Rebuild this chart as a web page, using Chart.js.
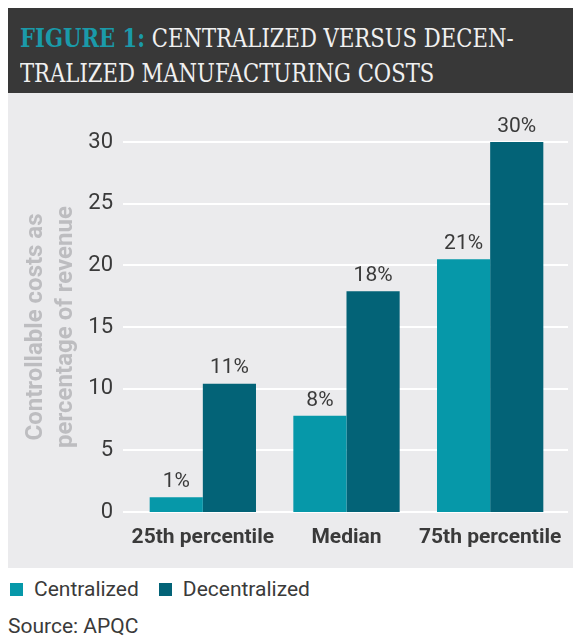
<!DOCTYPE html>
<html>
<head>
<meta charset="utf-8">
<script src="https://cdn.jsdelivr.net/npm/chart.js@4"></script>
<style>
    html, body { margin: 0; padding: 0; background: #fff; }
    body { width: 573px; height: 636px; position: relative; overflow: hidden; font-family: Roboto, sans-serif; color: #3a3a3a; }
    #header {
        position: absolute; left: 8px; top: 8px; width: 565px; height: 85px;
        background: #383838;
    }
    #header .txt {
        position: absolute; left: 12px; top: 13px;
        font-family: "DejaVu Serif", serif;
        font-size: 25.5px; line-height: 35px; color: #f0f0f0; white-space: nowrap;
        transform-origin: 0 0; transform: scaleX(0.83);
        font-weight: 300;
    }
    #header .fig { color: #1a9aa9; font-weight: bold; }
    #panel {
        position: absolute; left: 8px; top: 93px; width: 565px; height: 475px;
        background: #ebebed;
    }
    #legend {
        position: absolute; left: 10px; top: 577px; font-size: 21px; line-height: 24px; white-space: nowrap;
    }
    #legend span.item { display: inline-block; margin-right: 20px; }
    #legend i { display: inline-block; width: 13px; height: 13px; margin-right: 11px; vertical-align: 0px; }
    #source { position: absolute; left: 8px; top: 614px; font-size: 21px; line-height: 24px; }
</style>
</head>
<body>
<div id="header"><div class="txt"><span class="fig">FIGURE 1:</span> CENTRALIZED VERSUS DECEN-<br>TRALIZED MANUFACTURING COSTS</div></div>
<div id="panel"><canvas id="chart" width="565" height="475"></canvas></div>
<div id="legend"></div>
<div id="source">Source: APQC</div>

<script>
// Chart data
const categories = ['25th percentile', 'Median', '75th percentile'];
const seriesNames = ['Centralized', 'Decentralized'];
const centralized = [1.2, 7.8, 20.5];
const decentralized = [10.4, 17.9, 30];
const centralizedLabels = ['1%', '8%', '21%'];
const decentralizedLabels = ['11%', '18%', '30%'];
const yTicks = [0, 5, 10, 15, 20, 25, 30];
const colors = ['#0698a9', '#036377'];

// Gridlines span wider than the bar area
const gridPlugin = {
    id: 'wideGrid',
    beforeDatasetsDraw(chart) {
        const ctx = chart.ctx;
        const y = chart.scales.y;
        ctx.save();
        ctx.strokeStyle = '#ffffff';
        ctx.lineWidth = 2;
        yTicks.forEach(v => {
            const py = Math.round(y.getPixelForValue(v));
            ctx.beginPath();
            ctx.moveTo(115, py);
            ctx.lineTo(560, py);
            ctx.stroke();
        });
        ctx.restore();
    }
};

// Value labels above bars
const labelPlugin = {
    id: 'valueLabels',
    afterDatasetsDraw(chart) {
        const ctx = chart.ctx;
        const texts = [centralizedLabels, decentralizedLabels];
        ctx.save();
        ctx.font = '21px Roboto';
        ctx.fillStyle = '#3a3a3a';
        ctx.textAlign = 'center';
        ctx.textBaseline = 'bottom';
        chart.data.datasets.forEach((ds, i) => {
            chart.getDatasetMeta(i).data.forEach((bar, j) => {
                ctx.fillText(texts[i][j], bar.x, bar.y - 5);
            });
        });
        ctx.restore();
    }
};

const chart = new Chart(document.getElementById('chart'), {
    type: 'bar',
    data: {
        labels: categories,
        datasets: [
            { label: seriesNames[0], data: centralized, backgroundColor: colors[0] },
            { label: seriesNames[1], data: decentralized, backgroundColor: colors[1] }
        ]
    },
    options: {
        responsive: false,
        animation: false,
        events: [],
        categoryPercentage: 0.74,
        barPercentage: 1,
        layout: { padding: { top: 49, right: 11, left: 0, bottom: 0 } },
        plugins: { legend: { display: false }, tooltip: { enabled: false } },
        scales: {
            x: {
                grid: { display: false },
                border: { display: false },
                ticks: {
                    color: '#3a3a3a',
                    font: { family: 'Roboto', size: 21, weight: 'bold' },
                    padding: 5,
                    maxRotation: 0,
                    autoSkip: false
                },
                afterFit(scale) { scale.height = 56; }
            },
            y: {
                min: 0,
                max: 30,
                grid: { display: false },
                border: { display: false },
                ticks: {
                    stepSize: 5,
                    color: '#3a3a3a',
                    font: { family: 'Roboto', size: 22 },
                    padding: 10
                },
                title: {
                    display: true,
                    text: ['Controllable costs as', 'percentage of revenue'],
                    color: '#bdbdc0',
                    font: { family: 'Roboto', size: 24, weight: 'bold', lineHeight: 1.25 },
                    padding: { top: 13, bottom: 0 }
                },
                afterFit(scale) { scale.width = 123; }
            }
        }
    },
    plugins: [gridPlugin, labelPlugin]
});

// Legend built from the series
document.getElementById('legend').innerHTML = seriesNames.map((name, i) =>
    `<span class="item"><i style="background:${colors[i]}"></i>${name}</span>`
).join('');
</script>
</body>
</html>
